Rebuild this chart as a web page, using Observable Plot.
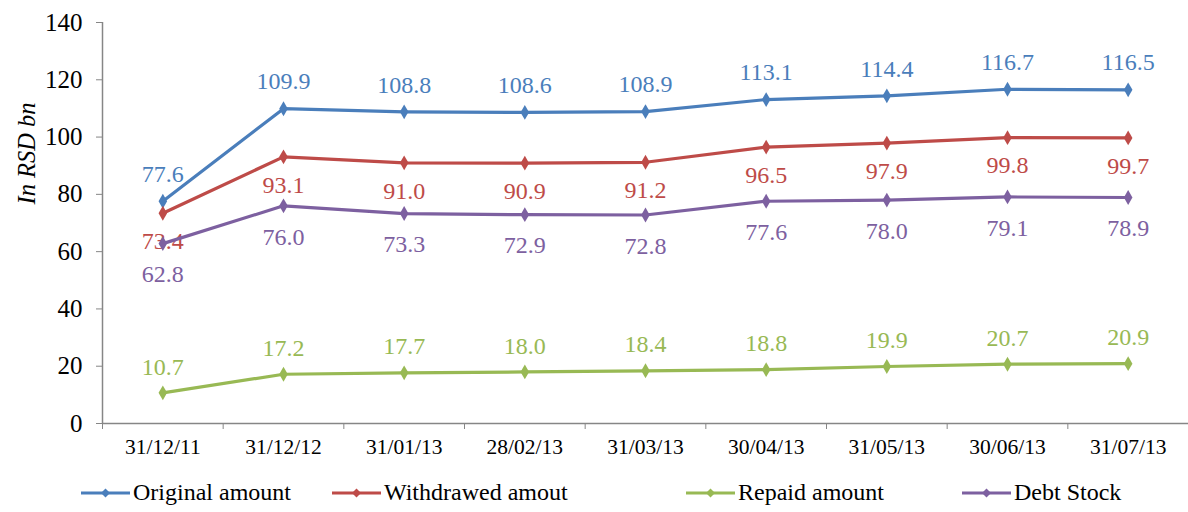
<!DOCTYPE html>
<html>
<head>
<meta charset="utf-8">
<script src="https://cdn.jsdelivr.net/npm/d3@7"></script>
<script src="https://cdn.jsdelivr.net/npm/@observablehq/plot@0.6"></script>
<style>
  body { margin: 0; background: #fff; font-family: "Liberation Serif", "Times New Roman", Times, serif; }
  #legend { display: flex; position: relative; height: 50px; font-size: 24px; color: #000; font-family: "Liberation Serif", "Times New Roman", Times, serif; }
  .item { position: absolute; top: 17px; display: flex; align-items: center; }
  .item svg { margin-right: 3px; }
  #chart svg, #chart svg text { font-family: "Liberation Serif", "Times New Roman", Times, serif !important; }
</style>
</head>
<body>
<div id="chart"></div>
<div id="legend"></div>
<script>
const dates = ["31/12/11","31/12/12","31/01/13","28/02/13","31/03/13","30/04/13","31/05/13","30/06/13","31/07/13"];
const seriesNames = ["Original amount","Withdrawed amout","Repaid amount","Debt Stock"];
const original   = [77.6, 109.9, 108.8, 108.6, 108.9, 113.1, 114.4, 116.7, 116.5];
const withdrawed = [73.4, 93.1, 91.0, 90.9, 91.2, 96.5, 97.9, 99.8, 99.7];
const repaid     = [10.7, 17.2, 17.7, 18.0, 18.4, 18.8, 19.9, 20.7, 20.9];
const debt       = [62.8, 76.0, 73.3, 72.9, 72.8, 77.6, 78.0, 79.1, 78.9];
const yTicks = [0, 20, 40, 60, 80, 100, 120, 140];

const colors = ["#4A7EBB", "#BE4B48", "#98B954", "#7D60A0"];
const labelDy = [-27, 28, -26, 31];
const allValues = [original, withdrawed, repaid, debt];

const rows = [];
allValues.forEach((vals, s) => vals.forEach((v, i) => rows.push({series: seriesNames[s], s, i, v})));

const font = '"Liberation Serif", "Times New Roman", Times, serif';
const marks = [
  Plot.axisY({ticks: yTicks, tickSize: 6, tickPadding: 14, label: null, fontSize: 25, stroke: "#868686", color: "#000"}),
  Plot.ruleX([-0.5], {stroke: "#868686", strokeWidth: 1.5}),
  Plot.ruleY([0], {stroke: "#868686", strokeWidth: 1.5}),
  Plot.axisX({ticks: d3.range(-0.5, 9, 1), tickSize: 6, tickFormat: () => "", label: null, stroke: "#868686"}),
  Plot.axisX({ticks: d3.range(0, 9), tickSize: 0, tickPadding: 15, tickFormat: i => dates[i], label: null, fontSize: 21.5, color: "#000"}),
  Plot.text(["In RSD bn"], {frameAnchor: "top-left", textAnchor: "middle", rotate: -90, dx: -85, dy: 131, fontSize: 24.5, fontStyle: "italic", fill: "#000"})
];
seriesNames.forEach((name, s) => {
  const data = rows.filter(d => d.s === s);
  marks.push(Plot.line(data, {x: "i", y: "v", stroke: colors[s], strokeWidth: 3.2}));
  marks.push(Plot.dot(data, {x: "i", y: "v", fill: colors[s], symbol: "diamond", r: 4.5, stroke: null}));
  marks.push(Plot.text(data, {x: "i", y: "v", text: d => d.v.toFixed(1), fill: colors[s], dy: labelDy[s], fontSize: 24}));
});

const chart = Plot.plot({
  width: 1188,
  height: 462,
  marginLeft: 102,
  marginRight: 0,
  marginTop: 22,
  marginBottom: 39,
  style: {fontFamily: font, background: "#fff"},
  x: {type: "linear", domain: [-0.5, 8.5], axis: null},
  y: {domain: [0, 140], axis: null},
  marks
});
document.getElementById("chart").appendChild(chart);

const legend = document.getElementById("legend");
const lefts = [81, 332, 686, 962];
seriesNames.forEach((name, s) => {
  const it = document.createElement("div");
  it.className = "item";
  it.style.left = lefts[s] + "px";
  const w = 49;
  it.innerHTML = `<svg width="${w}" height="12"><line x1="0" x2="${w}" y1="6" y2="6" stroke="${colors[s]}" stroke-width="3.2"/><path d="M${w/2},1.5L${w/2+4.5},6L${w/2},10.5L${w/2-4.5},6Z" fill="${colors[s]}"/></svg><span>${name}</span>`;
  legend.appendChild(it);
});
</script>
</body>
</html>
